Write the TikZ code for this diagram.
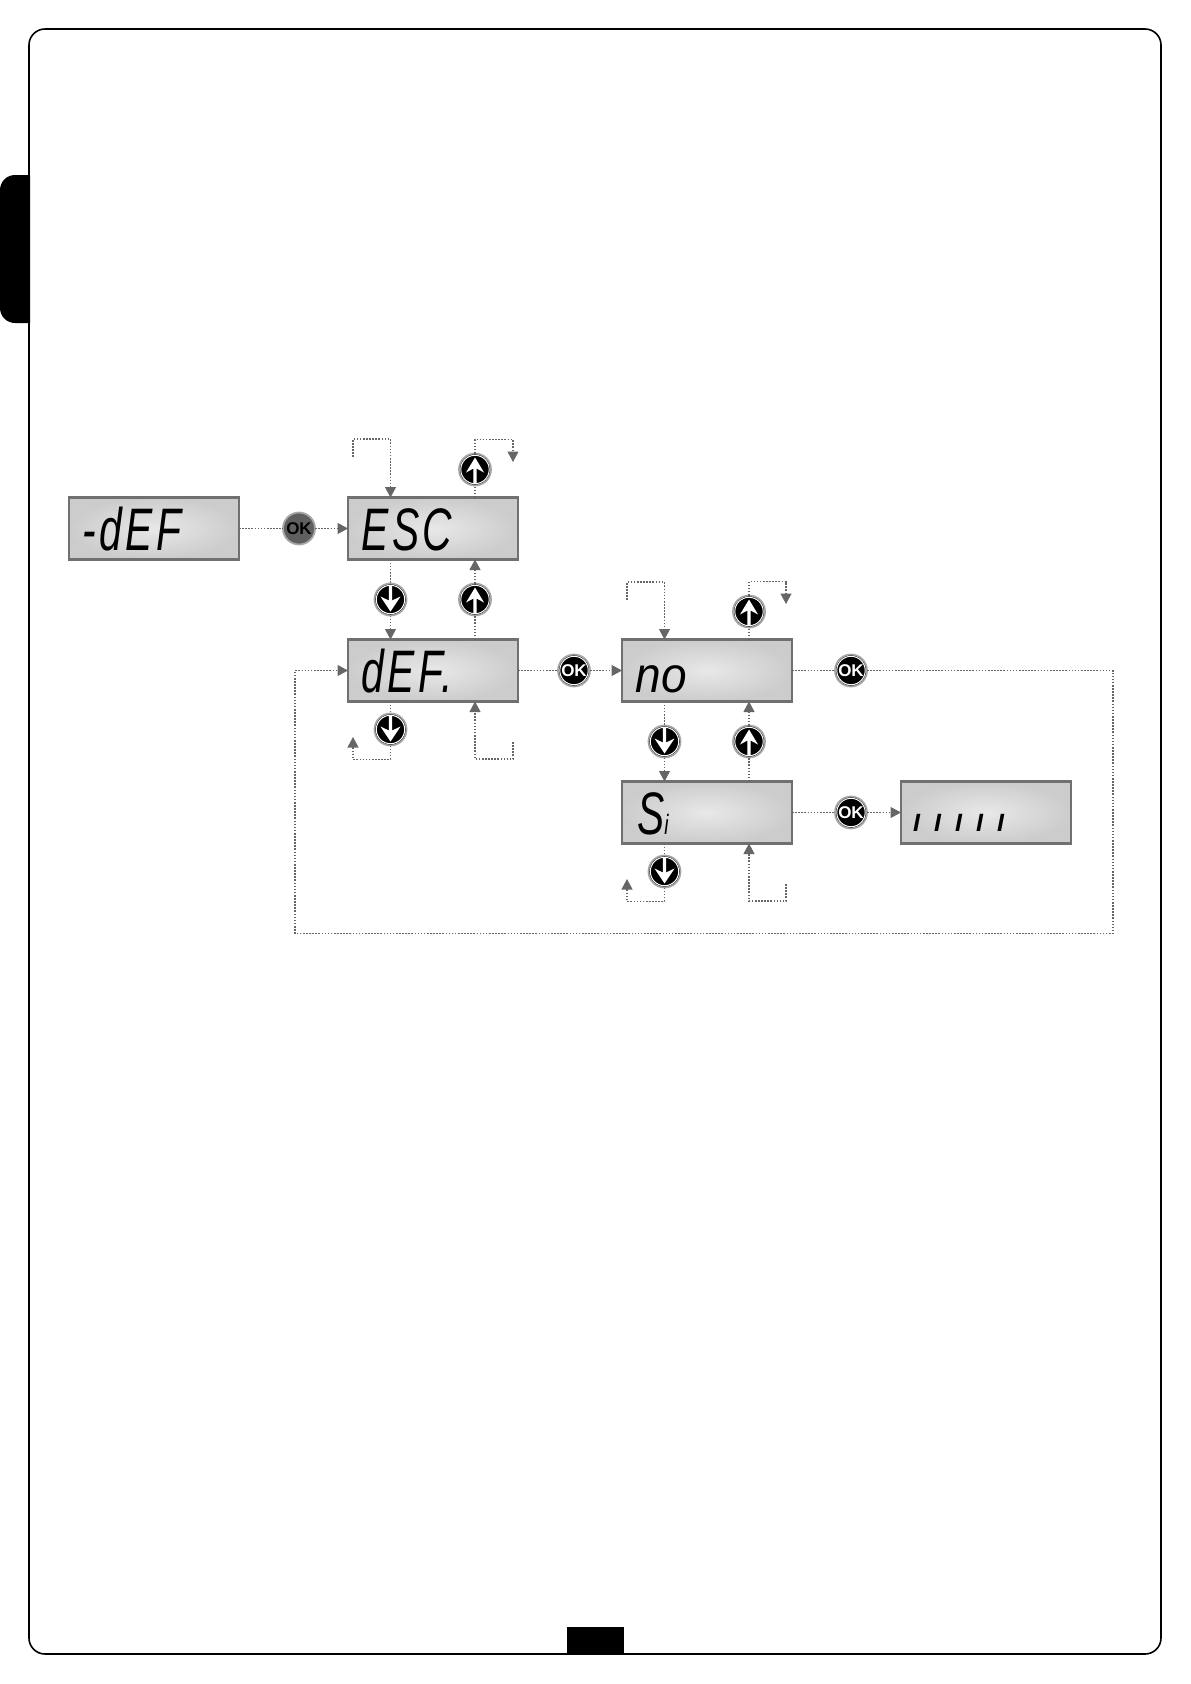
\documentclass[tikz,border=0pt]{standalone}
\usepackage{fontspec}
\setmainfont{Liberation Sans}
\newfontfamily\lcdfont[FakeStretch=.68,LetterSpace=6]{Liberation Sans}
\newfontfamily\lcdwide[FakeStretch=.92,LetterSpace=2]{Liberation Sans}
\newfontfamily\barfont[LetterSpace=56]{Liberation Sans}
\usetikzlibrary{arrows.meta,positioning}
\definecolor{LcdEdge}{HTML}{707070}
\definecolor{LcdDark}{HTML}{CCCCCC}
\definecolor{LcdLight}{HTML}{E8E8E8}
\definecolor{LinkGray}{HTML}{666666}
\definecolor{KeyRing}{HTML}{A6A6A6}
\tikzset{
  lcdbox/.style={draw=LcdEdge,line width=2.2pt,inner color=LcdLight,outer color=LcdDark,minimum width=170pt,minimum height=62pt,outer sep=0pt},
  lcdtext/.style={anchor=base west,inner sep=0pt,font=\lcdfont\itshape\fontsize{#1}{#1}\selectfont},
  keybase/.style={circle,draw=KeyRing,line width=1.8pt,fill=black,minimum size=32pt,inner sep=0pt,outer sep=0pt},
  ringed/.style={path picture={\draw[white,line width=1pt] (path picture bounding box.center) circle (14.2pt);
    \begin{scope}[shift={(path picture bounding box.center)}]#1\end{scope}}},
  upkey/.style={keybase,ringed={\fill[white] (0,-12) -- (9,3) -- (1.6,-1) -- (1.6,14) -- (-1.6,14) -- (-1.6,-1) -- (-9,3) -- cycle;}},
  downkey/.style={keybase,ringed={\fill[white] (0,12) -- (10,-3) -- (1.6,1) -- (1.6,-14) -- (-1.6,-14) -- (-1.6,1) -- (-10,-3) -- cycle;}},
  okkey/.style={keybase,ringed={},text=white,font=\bfseries\fontsize{17}{17}\selectfont},
  okfirst/.style={keybase,fill=LcdEdge!85!black,text=black,font=\bfseries\fontsize{17}{17}\selectfont},
  link/.style={LinkGray,line width=1.1pt,dash pattern=on 1.6pt off 1.5pt},
  flow/.style={link,-{Triangle[length=10.5pt,width=11pt,fill=LinkGray]}}
}
\begin{document}
\begin{tikzpicture}[x=1pt,y=-1pt,node distance=80pt and 104pt]
  \useasboundingbox (0,0) rectangle (1191,1684);
  % page frame and tabs
  \draw[line width=1.6pt,rounded corners=16pt] (29,29) rectangle (1161,1654);
  \fill[black] (30,175) [rounded corners=15pt] -- (0,175) -- (0,323) [sharp corners] -- (30,323) -- cycle;
  \fill[black] (567,1627) rectangle (624,1654);

  % displays
  \node[lcdbox] (fdef) at (154,528.5) {};
  \node[lcdbox,right=109pt of fdef] (esc) {};
  \node[lcdbox,below=of esc] (def) {};
  \node[lcdbox,right=of def] (no) {};
  \node[lcdbox,below=of no] (si) {};
  \node[lcdbox,right=109pt of si] (res) {};
  \node[lcdtext=60] (fdeftxt) at ([xshift=13pt,yshift=9pt]fdef.south west) {-dEF};
  \node[lcdtext=60] (esctxt) at ([xshift=13pt,yshift=9pt]esc.south west) {ESC};
  \node[lcdtext=60] (deftxt) at ([xshift=13pt,yshift=9pt]def.south west) {dEF.};
  \node[lcdtext=50] (notxt) at ([xshift=13pt,yshift=9pt]no.south west) {\lcdwide\itshape no};
  \node[lcdtext=60] (sitxt) at ([xshift=15pt,yshift=9pt]si.south west) {S{\fontsize{28}{28}\selectfont i}};
  \node[anchor=base west,inner sep=0pt,font=\barfont\bfseries\itshape\fontsize{25}{25}\selectfont] (restxt) at ([xshift=12pt,yshift=12pt]res.south west) {IIIII};

  % keys
  \node[okfirst] (oka) at ([xshift=-49pt]esc.west) {OK};
  \node[okkey] (okb) at ([xshift=-48pt]no.west) {OK};
  \node[okkey] (okc) at ([xshift=59pt]no.east) {OK};
  \node[okkey] (okd) at ([xshift=59pt]si.east) {OK};
  \node[upkey] (upa) at ([xshift=127pt,yshift=28pt]esc.north west) {};
  \node[upkey] (upb) at ([xshift=127pt,yshift=-40pt]esc.south west) {};
  \node[upkey] (upc) at ([xshift=127pt,yshift=28pt]no.north west) {};
  \node[upkey] (upd) at ([xshift=127pt,yshift=-40pt]no.south west) {};
  \node[downkey] (downa) at ([xshift=42.5pt,yshift=-40pt]esc.south west) {};
  \node[downkey] (downb) at ([xshift=42.5pt,yshift=-28pt]def.south west) {};
  \node[downkey] (downc) at ([xshift=42.5pt,yshift=-40pt]no.south west) {};
  \node[downkey] (downd) at ([xshift=42.5pt,yshift=-28pt]si.south west) {};

  % free ends of the small loops
  \coordinate (escin) at (353,457);
  \coordinate (escout) at (513,462);
  \coordinate (defback) at (353,737);
  \coordinate (defin) at (513,742);
  \coordinate (noin) at (627,600);
  \coordinate (noout) at (786,604);
  \coordinate (siback) at (627,879);
  \coordinate (siin) at (786,884);
  \coordinate (retright) at (1113,933.5);
  \coordinate (retleft) at (295,933.5);

  % main row
  \draw[link] (fdef) -- (oka);
  \draw[flow] (oka) -- (esc);
  \draw[link] (def) -- (okb);
  \draw[flow] (okb) -- (no);
  \draw[link] (si) -- (okd);
  \draw[flow] (okd) -- (res);
  \draw[link] (no) -- (okc);
  \draw[flow] (okc) -- (retright |- okc) -- (retright) -- (retleft) -- (retleft |- def) -- (def);

  % esc and def
  \draw[flow] (escin) -- ++(0,-18) -| (downa |- esc.north);
  \draw[link] (esc.north -| upa) -- (upa);
  \draw[flow] (upa) -- ++(0,-30) -| (escout);
  \draw[link] (esc.south -| downa) -- (downa);
  \draw[flow] (downa) -- (def.north -| downa);
  \draw[link] (def.north -| upb) -- (upb);
  \draw[flow] (upb) -- (esc.south -| upb);
  \draw[link] (def.south -| downb) -- (downb);
  \draw[flow] (downb) -- ++(0,30) -| (defback);
  \draw[flow] (defin) -- ++(0,17) -| (def.south -| upb);

  % no and si
  \draw[flow] (noin) -- ++(0,-18) -| (downc |- no.north);
  \draw[link] (no.north -| upc) -- (upc);
  \draw[flow] (upc) -- ++(0,-30) -| (noout);
  \draw[link] (no.south -| downc) -- (downc);
  \draw[flow] (downc) -- (si.north -| downc);
  \draw[link] (si.north -| upd) -- (upd);
  \draw[flow] (upd) -- (no.south -| upd);
  \draw[link] (si.south -| downd) -- (downd);
  \draw[flow] (downd) -- ++(0,30) -| (siback);
  \draw[flow] (siin) -- ++(0,17) -| (si.south -| upd);
\end{tikzpicture}
\end{document}
